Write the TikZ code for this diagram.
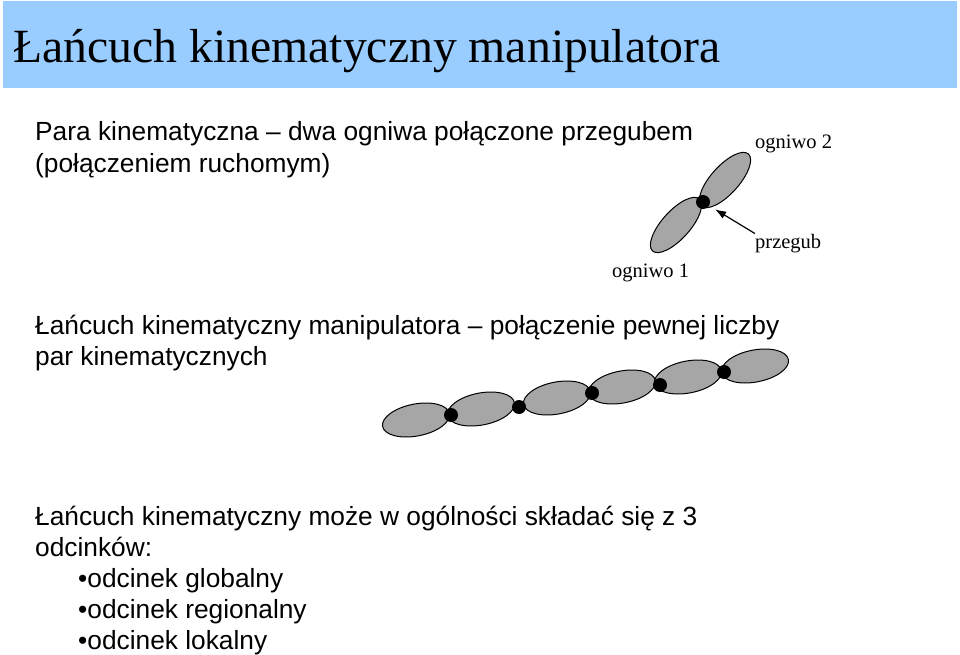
\documentclass[tikz,border=0pt]{standalone}
\usepackage{fontspec}
\usetikzlibrary{arrows.meta}
\setmainfont{Liberation Sans}
\newfontfamily\timesfont{Liberation Serif}
\definecolor{titlebar}{HTML}{99CCFF}
\definecolor{linkgray}{HTML}{A6A6A6}
\tikzset{
  link/.style={draw=black, line width=1pt, fill=linkgray},
  joint/.style={circle, fill=black, inner sep=0pt, minimum size=14pt},
  bodytext/.style={anchor=base west, inner sep=0pt, font=\fontsize{26.3}{31}\selectfont},
  linklabel/.style={anchor=base west, inner sep=0pt, font=\timesfont\fontsize{20.5}{24}\selectfont}
}
\begin{document}
\begin{tikzpicture}[>={Latex[length=11pt,width=8pt]}, x=1pt, y=-1pt]
\useasboundingbox (0,0) rectangle (960,655);
\fill[titlebar] (3,1) rectangle (957,88);
\node[anchor=base west, inner sep=0pt, font=\timesfont\fontsize{47.7}{52}\selectfont] (title) at (13,63) {Łańcuch kinematyczny manipulatora};

\node[bodytext] (para1) at (35,141) {Para kinematyczna – dwa ogniwa połączone przegubem};
\node[bodytext] (para2) at (35,172) {(połączeniem ruchomym)};

\begin{scope}
\draw[link, rotate around={48:(676,225)}] (676,225) ellipse [x radius=35, y radius=14];
\draw[link, rotate around={48:(725,180)}] (725,180) ellipse [x radius=35, y radius=14];
\node[joint] (j0) at (703,202) {};
\node[linklabel] (link2) at (755,149) {ogniwo 2};
\node[linklabel] (link1) at (612,277) {ogniwo 1};
\node[linklabel] (hinge) at (755,248) {przegub};
\draw[->, line width=1.2pt, shorten >=7pt] (hinge.north west) -- (j0);
\end{scope}

\node[bodytext] (chain1) at (35,334) {Łańcuch kinematyczny manipulatora – połączenie pewnej liczby};
\node[bodytext] (chain2) at (35,365) {par kinematycznych};

\begin{scope}
\foreach \cx/\cy in {416/420, 481/409, 557/398, 622/387, 688/377, 755/366}
  \draw[link, rotate around={11:(\cx,\cy)}] (\cx,\cy) ellipse [x radius=34, y radius=16];
\foreach \jx/\jy [count=\i] in {451/415, 519/407, 592/393, 660/385, 724/372}
  \node[joint] (j\i) at (\jx,\jy) {};
\end{scope}

\node[bodytext] (seg1) at (35,525) {Łańcuch kinematyczny może w ogólności składać się z 3};
\node[bodytext] (seg2) at (35,556) {odcinków:};
\node[bodytext] (seg3) at (78,587) {•odcinek globalny};
\node[bodytext] (seg4) at (78,618) {•odcinek regionalny};
\node[bodytext] (seg5) at (78,649) {•odcinek lokalny};
\end{tikzpicture}
\end{document}
